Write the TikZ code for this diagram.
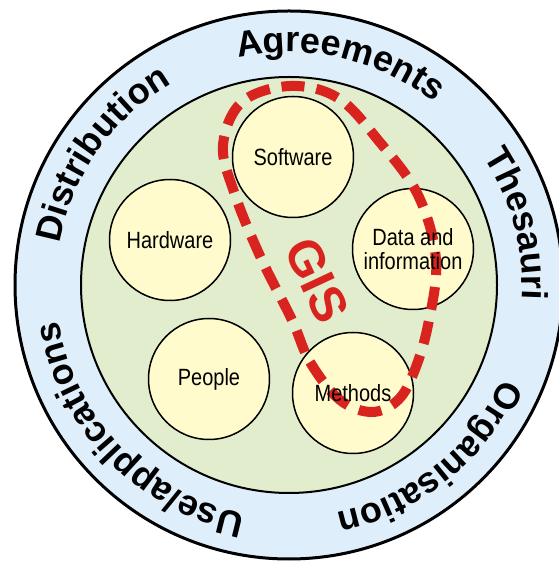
\documentclass[tikz,border=0pt]{standalone}
\usepackage{fontspec}
\setmainfont{Liberation Sans}
\newfontfamily\narrowsans{Liberation Sans}[FakeStretch=0.85]
\usetikzlibrary{decorations.text}

\definecolor{ringblue}{HTML}{DFEEFB}
\definecolor{coregreen}{HTML}{E1EDCD}
\definecolor{compyellow}{HTML}{FFFBCC}
\definecolor{gisred}{HTML}{D9231F}

\tikzset{
  comp/.style={circle, draw=black, line width=1.5pt, fill=compyellow,
    minimum size=121pt, inner sep=0pt},
  complabel/.style={align=center, font=\narrowsans\fontsize{23.5}{24}\selectfont},
  ringtext/.style={decorate, decoration={text along path, text align=center,
    text={|\bfseries\fontsize{36}{36}\selectfont|#1}}},
}

\begin{document}
\begin{tikzpicture}[x=1pt,y=1pt]
  \useasboundingbox (0,0) rectangle (558,562);
  \coordinate (o) at (289,277);
  % rings
  \node[circle, draw, line width=3pt, fill=ringblue, minimum size=548pt, inner sep=0pt] (ring) at (o) {};
  \node[circle, draw, line width=2pt, fill=coregreen, minimum size=416pt, inner sep=0pt] (core) at (o) {};
  \path[ringtext=Agreements] (o) ++(117:233) arc[start angle=117, end angle=37, radius=233];
  \path[ringtext=Thesauri] (o) ++(55:233) arc[start angle=55, end angle=-25, radius=233];
  \path[ringtext=Organisation] (o) ++(-11:233) arc[start angle=-11, end angle=-91, radius=233];
  \path[ringtext=Use/applications] (o) ++(264:233) arc[start angle=264, end angle=184, radius=233];
  \path[ringtext=Distribution] (o) ++(185:233) arc[start angle=185, end angle=105, radius=233];
  % components
  \node[comp] (sw) at (293,405) {};
  \node[comp] (hw) at (170,322) {};
  \node[comp] (di) at (413,313) {};
  \node[comp] (pe) at (209,183) {};
  \node[comp] (me) at (353,169) {};
  % GIS loop
  \draw[gisred, line width=10pt, dash pattern=on 23pt off 12pt]
    plot[smooth cycle, tension=0.6] coordinates {(292,242) (310,200) (340,162) (372,150) (398,162) (414,190)
      (428,237) (436,302) (418,367) (378,422) (338,464) (290,476) (242,460) (223,417) (234,370) (260,306)};
  \node[text=gisred, rotate=-65, font=\bfseries\fontsize{50}{50}\selectfont] (gis) at (317,282) {GIS};
  \node[complabel] at (sw) {Software};
  \node[complabel] at (hw) {Hardware};
  \node[complabel] at (di) {Data and\\information};
  \node[complabel] at (pe) {People};
  \node[complabel] at (me) {Methods};
\end{tikzpicture}
\end{document}
